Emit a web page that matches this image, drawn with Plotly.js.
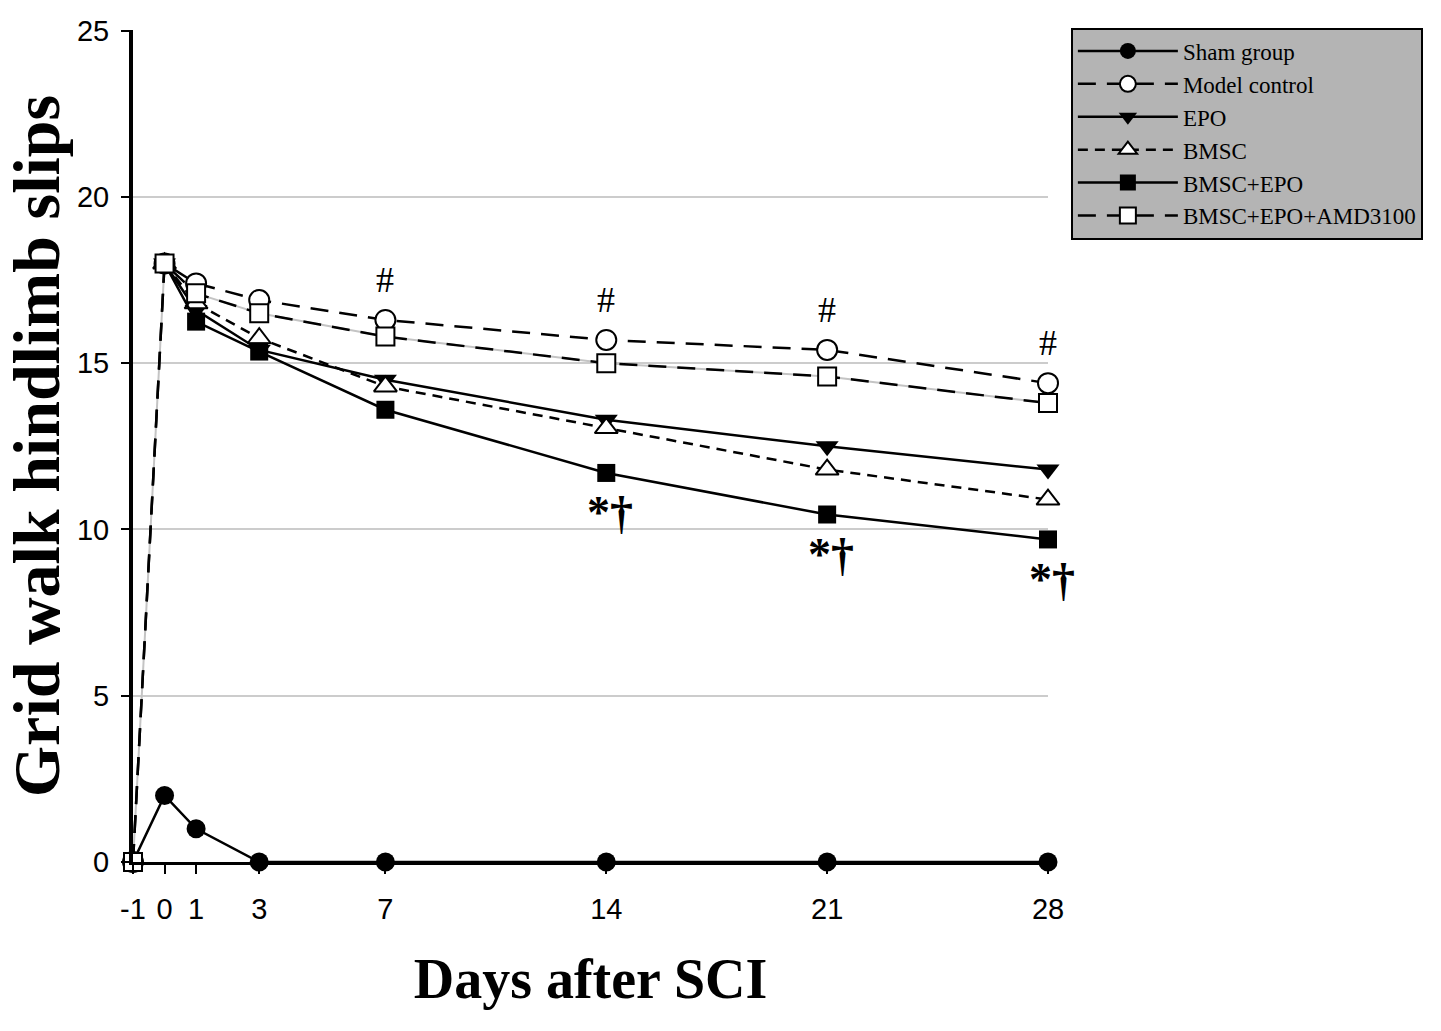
<!DOCTYPE html>
<html>
<head>
<meta charset="utf-8">
<script src="https://cdn.plot.ly/plotly-3.0.1.min.js"></script>
<style>
  body { margin: 0; background: #fff; }
  #chart { width: 1441px; height: 1031px; }
</style>
</head>
<body>
<div id="chart"></div>
<script>
// days after SCI
var daysFull = [-1, 0, 1, 3, 7, 14, 21, 28]
var days = [0, 1, 3, 7, 14, 21, 28]
var tickDays = [-1, 0, 1, 3, 7, 14, 21, 28]

// grid walk hindlimb slips per group
var sham = [0, 2, 1, 0, 0, 0, 0, 0]
var model = [0, 18, 17.4, 16.9, 16.3, 15.7, 15.4, 14.4]
var epo = [18, 16.6, 15.4, 14.5, 13.3, 12.5, 11.8]
var bmsc = [18, 16.8, 15.75, 14.3, 13.05, 11.8, 10.9]
var bmscEpo = [18, 16.25, 15.35, 13.6, 11.7, 10.45, 9.7]
var amd = [0, 18, 17.1, 16.5, 15.8, 15.0, 14.6, 13.8]

// significance marks
var hashDays = [7, 14, 21, 28]
var starDays = [14, 21, 28]

var black = '#000000'

var traces = [
    {
        x: daysFull, y: amd, mode: 'lines', showlegend: false, hoverinfo: 'skip',
        line: {color: '#c4c4c4', width: 2}
    },
    {
        x: daysFull, y: sham, name: 'Sham group', mode: 'lines+markers',
        line: {color: black, width: 2.5},
        marker: {symbol: 'circle', size: 19, color: black}
    },
    {
        x: daysFull, y: model, name: 'Model control', mode: 'lines+markers',
        line: {color: black, width: 2.5, dash: '18px,11px'},
        marker: {symbol: 'circle', size: 20, color: '#ffffff', line: {color: black, width: 2}}
    },
    {
        x: days, y: epo, name: 'EPO', mode: 'lines+markers',
        line: {color: black, width: 2.5},
        marker: {symbol: 'triangle-down', size: 20, color: black}
    },
    {
        x: days, y: bmsc, name: 'BMSC', mode: 'lines+markers',
        line: {color: black, width: 2.5, dash: '10px,7px'},
        marker: {symbol: 'triangle-up', size: 20, color: '#ffffff', line: {color: black, width: 2}}
    },
    {
        x: days, y: bmscEpo, name: 'BMSC+EPO', mode: 'lines+markers',
        line: {color: black, width: 2.5},
        marker: {symbol: 'square', size: 18, color: black}
    },
    {
        x: daysFull, y: amd, name: 'BMSC+EPO+AMD3100', mode: 'lines+markers',
        line: {color: black, width: 2.5, dash: '18px,11px'},
        marker: {symbol: 'square', size: 18, color: '#ffffff', line: {color: black, width: 2}}
    }
]
traces.forEach(function(t) { t.cliponaxis = false })

var annotations = []
hashDays.forEach(function(d) {
    annotations.push({
        x: d, y: model[daysFull.indexOf(d)], yshift: 40, text: '#', showarrow: false,
        font: {family: 'Liberation Serif, Times New Roman, serif', size: 36, color: black}
    })
})
starDays.forEach(function(d) {
    annotations.push({
        x: d, y: bmscEpo[days.indexOf(d)], yshift: -40, xshift: 4, text: '<b>*†</b>', showarrow: false,
        font: {family: 'Liberation Serif, Times New Roman, serif', size: 46, color: black}
    })
})

var layout = {
    width: 1441,
    height: 1031,
    paper_bgcolor: '#ffffff',
    plot_bgcolor: '#ffffff',
    margin: {l: 133, r: 393, t: 30, b: 169},
    showlegend: true,
    legend: {
        x: 1.025, y: 1.003, xanchor: 'left', yanchor: 'top',
        bgcolor: '#b4b4b4', bordercolor: black, borderwidth: 2,
        font: {family: 'Liberation Serif, Times New Roman, serif', size: 23, color: black},
        itemwidth: 100, tracegroupgap: 0
    },
    xaxis: {
        range: [-1, 28],
        tickvals: tickDays,
        ticktext: tickDays.map(String),
        ticks: 'outside', ticklen: 9, tickwidth: 2, tickcolor: black,
        ticklabelstandoff: 10,
        showline: true, linecolor: black, linewidth: 3,
        showgrid: false, zeroline: false,
        tickfont: {family: 'Liberation Sans Narrow, Liberation Sans, Arial, sans-serif', size: 29, color: black},
        title: {
            text: '<b>Days after SCI</b>', standoff: 36,
            font: {family: 'Liberation Serif, Times New Roman, serif', size: 56, color: black}
        }
    },
    yaxis: {
        range: [0, 25.02],
        tickvals: [0, 5, 10, 15, 20, 25],
        ticks: 'outside', ticklen: 8, tickwidth: 2, tickcolor: black,
        ticklabelstandoff: 6,
        showline: true, linecolor: black, linewidth: 4,
        showgrid: true, gridcolor: '#cccccc', gridwidth: 2,
        zeroline: false,
        tickfont: {family: 'Liberation Sans Narrow, Liberation Sans, Arial, sans-serif', size: 29, color: black},
        title: {
            text: '<b>Grid walk hindlimb slips</b>', standoff: 16,
            font: {family: 'Liberation Serif, Times New Roman, serif', size: 66, color: black}
        }
    },
    annotations: annotations
}

Plotly.newPlot('chart', traces, layout, {displayModeBar: false})
</script>
</body>
</html>
